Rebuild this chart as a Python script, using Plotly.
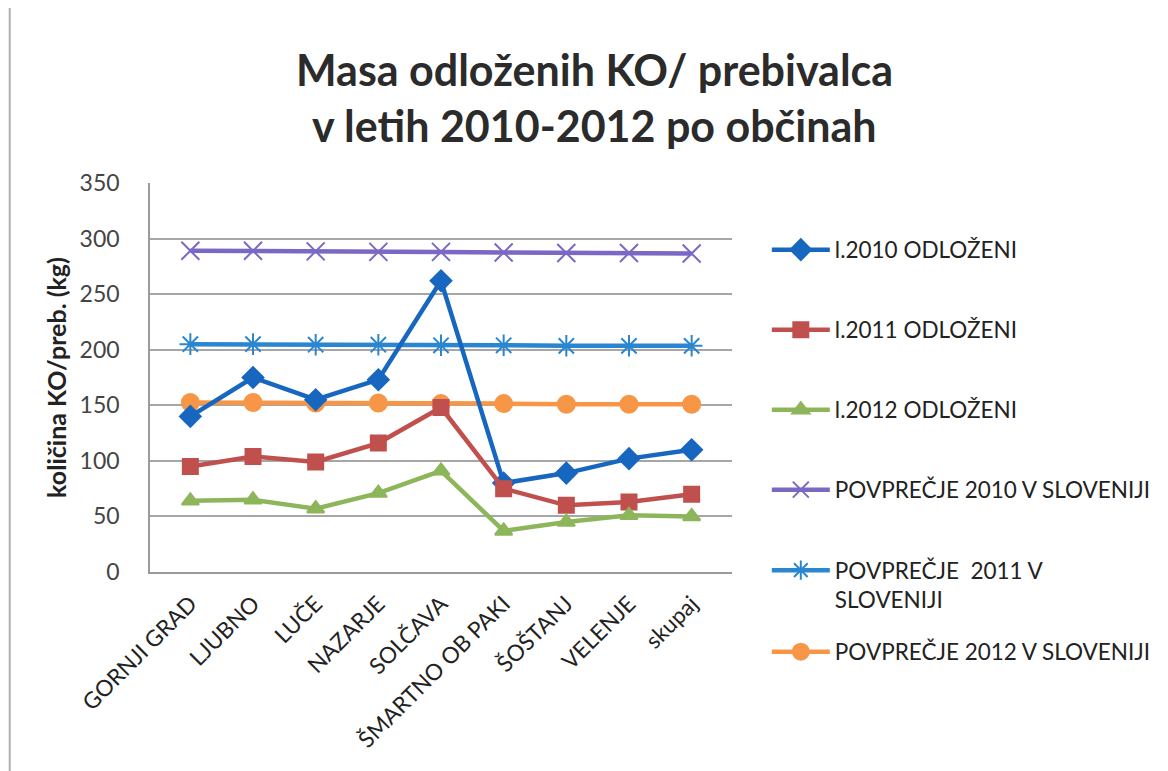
import plotly.graph_objects as go

categories = ["GORNJI GRAD", "LJUBNO", "LUČE", "NAZARJE", "SOLČAVA",
              "ŠMARTNO OB PAKI", "ŠOŠTANJ", "VELENJE", "skupaj"]

odlozeni_2010 = [140, 175, 155, 173, 262, 80, 89, 102, 110]
odlozeni_2011 = [95, 104, 99, 116, 148, 75, 60, 63, 70]
odlozeni_2012 = [64, 65, 57, 71, 91, 37, 45, 51, 50]
povprecje_2010 = [289, 289, 288.5, 288, 288, 287.5, 287, 287, 286.5]
povprecje_2011 = [205, 205, 204.5, 204.5, 204, 204, 203.5, 203.5, 203.5]
povprecje_2012 = [152.5, 152.5, 152, 152, 151.5, 151.5, 151, 151, 151]

series_names = ["l.2010 ODLOŽENI", "l.2011 ODLOŽENI", "l.2012 ODLOŽENI",
                "POVPREČJE 2010 V SLOVENIJI", "POVPREČJE  2011 V<br>SLOVENIJI",
                "POVPREČJE 2012 V SLOVENIJI"]
series_values = [odlozeni_2010, odlozeni_2011, odlozeni_2012,
                 povprecje_2010, povprecje_2011, povprecje_2012]
colors = ["#1767c0", "#c0504d", "#8db55a", "#7b68c4", "#2b86d0", "#f79646"]
symbols = ["diamond", "square", "triangle-up", "x-thin-open", "asterisk-open", "circle"]
sizes = [16, 15, 15, 18, 18, 17]

y_title = "količina KO/preb. (kg)"
title_lines = ["Masa odloženih KO/ prebivalca", "v letih 2010-2012 po občinah"]

FONT = "Lato"

# page has an 8px body margin; positions below are window pixels
OFF = 8
W, H = 1168 - OFF, 771 - OFF
X0, X1, YT, YB = 150, 735, 183, 572
PW, PH = X1 - X0, YB - YT

def px_x(x):
    return (x - X0) / PW

def px_y(y):
    return (YB - y) / PH

legend_centers = [250, 330, 410, 490, 585, 652]

fig = go.Figure()
order = [3, 4, 5, 0, 1, 2]
for i in order:
    lname = "legend" if i == 0 else f"legend{i+1}"
    fig.add_trace(go.Scatter(
        x=categories, y=series_values[i], name=series_names[i],
        mode="lines+markers",
        line=dict(color=colors[i], width=4.5),
        marker=dict(symbol=symbols[i], size=sizes[i], color=colors[i],
                    line=dict(color=colors[i], width=2)),
        legend=lname,
    ))

layout_legends = {}
for i in range(6):
    lname = "legend" if i == 0 else f"legend{i+1}"
    layout_legends[lname] = dict(
        x=px_x(770), xanchor="left",
        y=px_y(legend_centers[i]), yanchor="middle",
        bgcolor="rgba(0,0,0,0)",
        font=dict(family=FONT, size=22.5, color="#222222"),
        valign="top",
        itemwidth=58,
    )

fig.update_layout(
    width=W, height=H,
    margin=dict(l=X0 - OFF, r=W - (X1 - OFF), t=YT - OFF, b=H - (YB - OFF)),
    paper_bgcolor="white", plot_bgcolor="white",
    font=dict(family=FONT, color="#333333"),
    showlegend=True,
    **layout_legends,
    xaxis=dict(
        type="category", categoryorder="array", categoryarray=categories,
        tickangle=-45,
        tickfont=dict(family=FONT, size=22.5, color="#222222"),
        showgrid=False, showline=True, linecolor="#9a9a9a", linewidth=1.5,
        ticks="", ticklabelstandoff=8,
    ),
    yaxis=dict(
        range=[0, 350], dtick=50, tick0=0,
        tickfont=dict(family=FONT, size=23, color="#444444"),
        showgrid=True, gridcolor="#a6a6a6", gridwidth=1.5,
        showline=True, linecolor="#9a9a9a", linewidth=1.5,
        zeroline=False, ticks="", ticklabelstandoff=24,
        title=dict(text=f"<b>{y_title}</b>",
                   font=dict(family=FONT, size=25, color="#222222"),
                   standoff=6),
    ),
    annotations=[
        dict(text=f"<b>{title_lines[0]}</b>", x=px_x(597), y=px_y(69),
             xref="paper", yref="paper", xanchor="center", yanchor="middle",
             showarrow=False, font=dict(family=FONT, size=43, color="#2b2b2b")),
        dict(text=f"<b>{title_lines[1]}</b>", x=px_x(597), y=px_y(125),
             xref="paper", yref="paper", xanchor="center", yanchor="middle",
             showarrow=False, font=dict(family=FONT, size=43, color="#2b2b2b")),
    ],
    shapes=[
        dict(type="line", xref="paper", yref="paper",
             x0=px_x(9), x1=px_x(9), y0=px_y(0), y1=px_y(771),
             line=dict(color="#b0b0b0", width=2)),
    ],
)

fig.write_html("out.html")
